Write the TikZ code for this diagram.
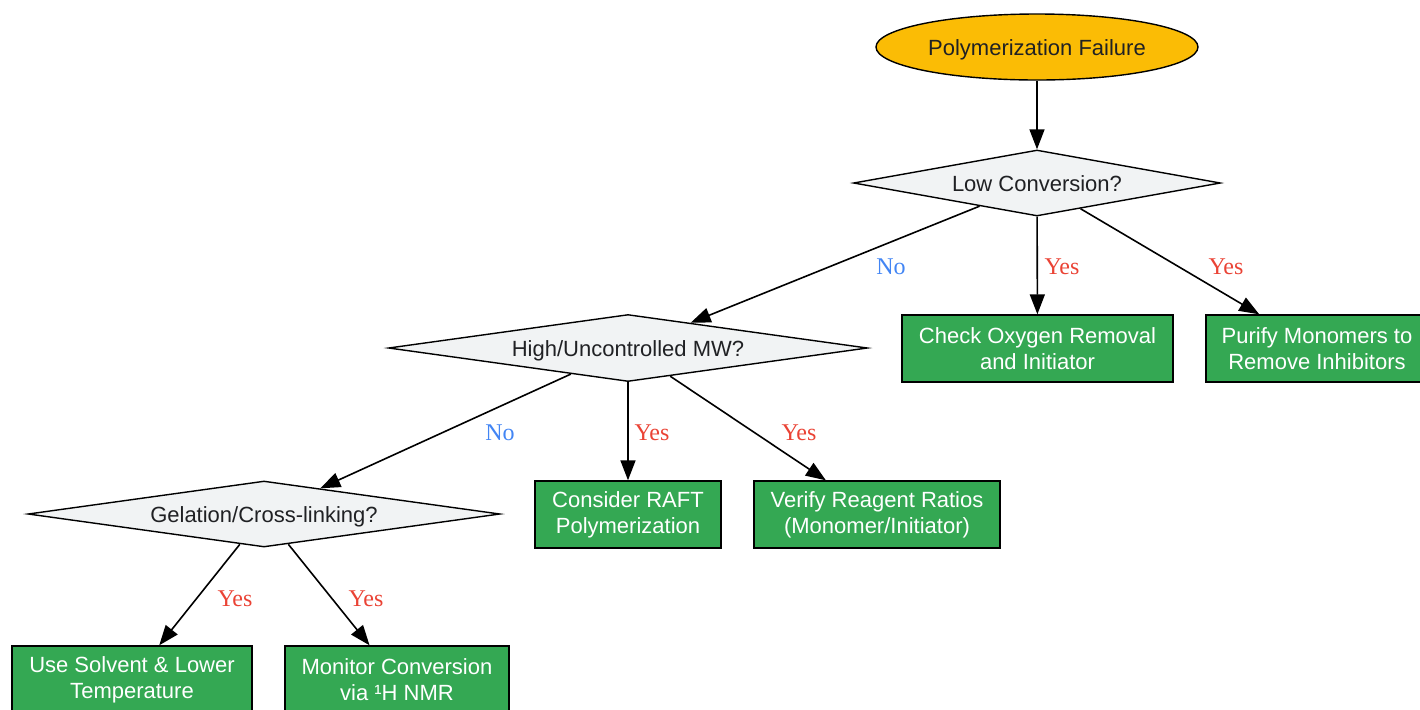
\documentclass[tikz,border=0pt]{standalone}
\usepackage{fontspec}
\setmainfont{Liberation Sans}
\newfontfamily\lblfont{Liberation Serif}
\usepackage{tikz}
\usetikzlibrary{shapes.geometric,arrows.meta}
\definecolor{startgold}{HTML}{FBBC05}
\definecolor{askgray}{HTML}{F1F3F4}
\definecolor{fixgreen}{HTML}{34A853}
\definecolor{inkdark}{HTML}{202124}
\definecolor{yesred}{HTML}{EA4335}
\definecolor{noblue}{HTML}{4285F4}

\begin{document}
\begin{tikzpicture}[x=0.5pt, y=-0.5pt,
    start/.style={ellipse, draw, line width=0.7pt, fill=startgold, text=inkdark,
        inner sep=0pt, text height=8pt, text depth=0pt,
        minimum width=161pt, minimum height=33pt, font=\fontsize{11}{13}\selectfont},
    ask/.style={diamond, draw, line width=0.7pt, fill=askgray, text=inkdark,
        inner sep=0pt, text height=8pt, text depth=0pt, font=\fontsize{11}{13}\selectfont},
    fix/.style={rectangle, draw, line width=0.7pt, fill=fixgreen, text=white, align=center,
        inner sep=0pt, minimum height=33.5pt, font=\fontsize{11}{13}\selectfont},
    arr/.style={-{Triangle[length=10pt,width=7.5pt]}, line width=0.8pt},
    yeslbl/.style={text=yesred, font=\lblfont\fontsize{12}{14}\selectfont},
    nolbl/.style={text=noblue, font=\lblfont\fontsize{12}{14}\selectfont}]
    \useasboundingbox (0,0) rectangle (1420,709);
    \clip (0,0) rectangle (1420,709);

    % Start and first question
    \node[start] (fail) at (1037,47) {Polymerization Failure};
    \node[ask, minimum width=183.5pt, minimum height=33pt, aspect=5.56] (lowconv) at (1037,183) {Low Conversion?};
    \node[fix, minimum width=135.5pt] (oxygen) at (1037.5,348.5) {Check Oxygen Removal\\and Initiator};
    \node[fix, minimum width=111pt] (purify) at (1317,348.5) {Purify Monomers to\\Remove Inhibitors};

    % Molecular weight branch
    \node[ask, minimum width=239.5pt, minimum height=33.5pt, aspect=7.15] (highmw) at (628,348) {High/Uncontrolled MW?};
    \node[fix, minimum width=93pt] (raft) at (628,514.5) {Consider RAFT\\Polymerization};
    \node[fix, minimum width=123pt] (ratios) at (877,514.5) {Verify Reagent Ratios\\(Monomer/Initiator)};

    % Gelation branch
    \node[ask, minimum width=236pt, minimum height=33pt, aspect=7.15] (gel) at (264,514) {Gelation/Cross-linking?};
    \node[fix, minimum width=120pt] (solvent) at (132,679.5) {Use Solvent \& Lower\\Temperature};
    \node[fix, minimum width=112pt] (nmr) at (397,679.5) {Monitor Conversion\\via ¹H NMR};

    % Connectors
    \draw[arr] (fail) -- (lowconv);
    \draw[arr] (lowconv) -- (highmw);
    \draw[arr] (lowconv) -- (oxygen);
    \draw[arr] (lowconv) -- (purify);
    \draw[arr] (highmw) -- (gel);
    \draw[arr] (highmw) -- (raft);
    \draw[arr] (highmw) -- (ratios);
    \draw[arr] (gel) -- (solvent);
    \draw[arr] (gel) -- (nmr);

    % Branch labels
    \node[nolbl] (no1) at (891,267) {No};
    \node[yeslbl] (yes1) at (1062,267) {Yes};
    \node[yeslbl] (yes2) at (1226,267) {Yes};
    \node[nolbl] (no2) at (500,433) {No};
    \node[yeslbl] (yes3) at (652,433) {Yes};
    \node[yeslbl] (yes4) at (799,433) {Yes};
    \node[yeslbl] (yes5) at (235,599) {Yes};
    \node[yeslbl] (yes6) at (366,599) {Yes};
\end{tikzpicture}
\end{document}
